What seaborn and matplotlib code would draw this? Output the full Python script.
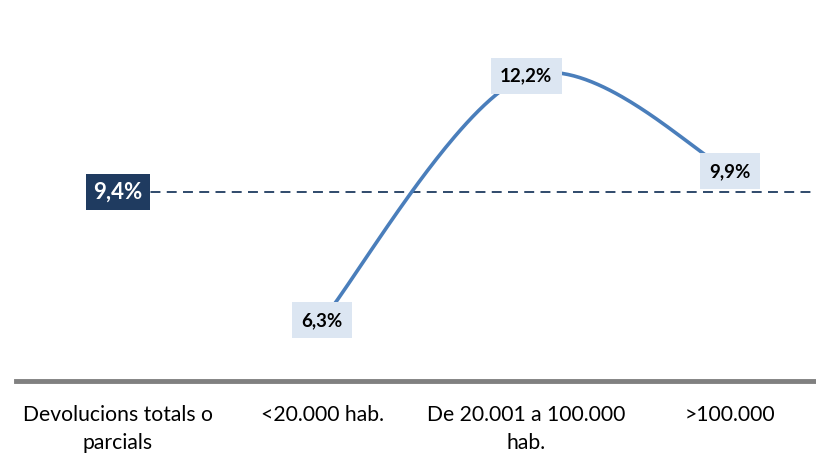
import numpy as np
import pandas as pd
import matplotlib
matplotlib.use("Agg")
import matplotlib.pyplot as plt
import seaborn as sns

categories = ["Devolucions totals o\nparcials", "<20.000 hab.", "De 20.001 a 100.000\nhab.", ">100.000"]
series_values = [6.3, 12.2, 9.9]          # values for categories 1..3
series_labels = ["6,3%", "12,2%", "9,9%"]
average_value = 9.4
average_label = "9,4%"

sns.set_theme(style="white")
plt.rcParams["font.family"] = ["Lato", "DejaVu Sans"]

fig = plt.figure(figsize=(8.16, 4.53), dpi=100)
ax = fig.add_axes([16 / 816, 72 / 453, 800 / 816, 381 / 453])

# Smoothed line through the points (cubic Bezier segments, spreadsheet-style smoothing)
xs = np.arange(1, 1 + len(series_values), dtype=float)
ys = np.array(series_values, dtype=float)
pts = np.column_stack([xs, ys])
ext = np.vstack([pts[0], pts, pts[-1]])
curve = []
for i in range(len(pts) - 1):
    p0, p1, p2, p3 = ext[i], ext[i + 1], ext[i + 2], ext[i + 3]
    c1 = p1 + (p2 - p0) / 6
    c2 = p2 - (p3 - p1) / 6
    t = np.linspace(0, 1, 80)[:, None]
    seg = (1 - t) ** 3 * p1 + 3 * (1 - t) ** 2 * t * c1 + 3 * (1 - t) * t ** 2 * c2 + t ** 3 * p2
    curve.append(seg)
curve = np.vstack(curve)
df_curve = pd.DataFrame({"x": curve[:, 0], "y": curve[:, 1]})
sns.lineplot(data=df_curve, x="x", y="y", sort=False, ax=ax, color="#4a7ebb", linewidth=2.6, zorder=3)

# Average reference line
xlim = (-0.5, 3.42)
df_avg = pd.DataFrame({"x": [0, xlim[1]], "y": [average_value, average_value]})
sns.lineplot(data=df_avg, x="x", y="y", ax=ax, color="#1f3b60", linewidth=1.3,
             linestyle=(0, (5.5, 3.5)), zorder=2)

# Value labels
for x, v, lab in zip(xs, ys, series_labels):
    ax.text(x, v, lab, ha="center", va="center", fontsize=13.5, fontweight="bold",
            color="black", zorder=5,
            bbox=dict(boxstyle="square,pad=0.5", fc="#dce6f2", ec="none"))
ax.text(0, average_value, average_label, ha="center", va="center", fontsize=16,
        fontweight="bold", color="white", zorder=5,
        bbox=dict(boxstyle="square,pad=0.34", fc="#1f3b60", ec="none"))

ax.set_xlim(*xlim)
ax.set_ylim(4.835, 14.04)
ax.set_xticks(range(len(categories)))
ax.set_xticklabels(categories, fontsize=15.2, color="black", linespacing=1.55)
ax.tick_params(axis="x", length=0, pad=17)
ax.set_yticks([])
ax.set_xlabel("")
ax.set_ylabel("")
for side in ["top", "right", "left"]:
    ax.spines[side].set_visible(False)
ax.spines["bottom"].set_color("#808080")
ax.spines["bottom"].set_linewidth(3.5)

fig.savefig("out.png", dpi=100)
